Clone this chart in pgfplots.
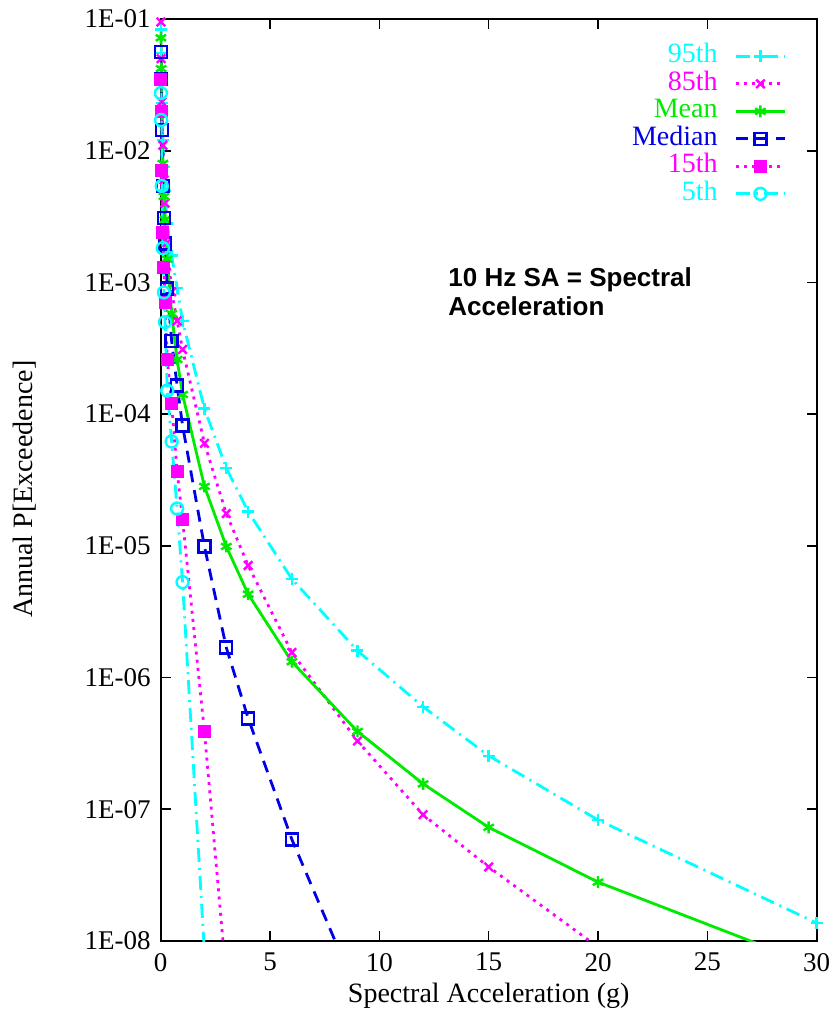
\documentclass[border=0pt]{standalone}
\usepackage{fontspec}
\setmainfont{Liberation Serif}
\newfontfamily\arial{Liberation Sans}
\usepackage{pgfplots}
\pgfplotsset{compat=1.18}
\definecolor{gcyan}{RGB}{0,255,255}
\definecolor{gmag}{RGB}{255,0,255}
\definecolor{ggreen}{RGB}{0,235,0}
\definecolor{gblue}{RGB}{0,0,230}
\begin{document}
\begin{tikzpicture}
\useasboundingbox (-80.35pt,-35.5pt) rectangle (334.15pt,470.5pt);
\begin{axis}[
  scale only axis, width=328pt, height=461pt,
  xmin=0, xmax=30, ymin=1e-8, ymax=1e-1,
  ymode=log,
  xtick={0,5,10,15,20,25,30},
  ytick={1e-1,1e-2,1e-3,1e-4,1e-5,1e-6,1e-7,1e-8},
  yticklabels={1E-01,1E-02,1E-03,1E-04,1E-05,1E-06,1E-07,1E-08},
  minor tick num=0,
  yminorticks=false,
  tick align=inside, tick pos=both,
  major tick length=5pt,
  every tick/.style={black, line width=0.8pt},
  axis line style={line width=0.9pt},
  /pgf/number format/assume math mode=true,
  tick label style={font=\fontsize{13.5}{15}\selectfont},
  xticklabel style={yshift=-2.5pt},
  yticklabel style={xshift=-1.5pt},
  label style={font=\fontsize{14}{16}\selectfont},
  xlabel={Spectral Acceleration (g)},
  ylabel={Annual P[Exceedence]},
  xlabel style={at={(rel axis cs:0.5,0)}, anchor=center, yshift=-27.5pt},
  ylabel style={at={(rel axis cs:0,0.49)}, anchor=center, yshift=67.9pt},
  legend plot pos=right,
  legend cell align=right,
  legend style={at={(rel axis cs:1,1)}, anchor=north east, xshift=-15pt, yshift=-11.6pt,
    draw=none, fill=none, inner sep=0pt, column sep=8.5pt, row sep=0pt,
    nodes={inner sep=0pt, text height=10pt, text depth=3.75pt},
    font=\fontsize{14}{14}\selectfont},
  legend image code/.code={\draw[mark repeat=2,mark phase=2] plot coordinates {(0cm,0cm) (0.43cm,0cm) (0.86cm,0cm)};},
  every axis plot/.append style={line width=1.4pt, mark size=3pt},
]
% 95th
\addplot[gcyan, dash pattern=on 7pt off 3pt on 1pt off 3pt, mark=+, mark options={solid, line width=1.2pt}] coordinates {
(0.01,8.3e-2) (0.02,5.5e-2) (0.05,2.3e-2) (0.1,1.2e-2) (0.15,7.5e-3) (0.2,5e-3) (0.3,2.8e-3) (0.5,1.6e-3) (0.75,9.1e-4) (1,5.1e-4) (2,1.1e-4) (3,3.9e-5) (4,1.82e-5) (6,5.6e-6) (9,1.6e-6) (12,6.0e-7) (15,2.55e-7) (20,8.3e-8) (30,1.37e-8)};
\addlegendentry{\textcolor{gcyan}{95th}}
% 85th
\addplot[gmag, dash pattern=on 1.5pt off 2.6pt, mark=x, mark options={solid, line width=1.2pt}] coordinates {
(0.01,9.5e-2) (0.02,5.0e-2) (0.05,2.35e-2) (0.1,1.1e-2) (0.15,6e-3) (0.2,4e-3) (0.3,2e-3) (0.5,8.5e-4) (0.75,5.1e-4) (1,3.1e-4) (2,6.0e-5) (3,1.76e-5) (4,7.1e-6) (6,1.55e-6) (9,3.3e-7) (12,9.1e-8) (15,3.65e-8) (20,9e-9)};
\addlegendentry{\textcolor{gmag}{85th}}
% Mean
\addplot[ggreen, solid, mark=asterisk, mark options={solid, line width=1.2pt}] coordinates {
(0.01,7.2e-2) (0.02,4.2e-2) (0.05,1.9e-2) (0.1,8e-3) (0.15,4.5e-3) (0.2,3e-3) (0.3,1.5e-3) (0.5,5.8e-4) (0.75,2.6e-4) (1,1.41e-4) (2,2.83e-5) (3,9.9e-6) (4,4.3e-6) (6,1.32e-6) (9,3.9e-7) (12,1.56e-7) (15,7.3e-8) (20,2.8e-8) (30,6.4e-9)};
\addlegendentry{\textcolor{ggreen}{Mean}}
% Median
\addplot[gblue, dash pattern=on 6pt off 4pt, mark=square, mark options={solid, line width=1.2pt}] coordinates {
(0.01,5.6e-2) (0.02,3.5e-2) (0.05,1.43e-2) (0.1,5.4e-3) (0.15,3.1e-3) (0.2,1.98e-3) (0.3,9e-4) (0.5,3.6e-4) (0.75,1.65e-4) (1,8.2e-5) (2,9.9e-6) (3,1.69e-6) (4,4.9e-7) (6,5.9e-8) (9,4.0e-9)};
\addlegendentry{\textcolor{gblue}{Median}}
% 15th
\addplot[gmag, dash pattern=on 1.5pt off 2.6pt, mark=square*, mark options={solid, scale=0.85}] coordinates {
(0.01,3.5e-2) (0.02,2.0e-2) (0.05,7.1e-3) (0.1,2.4e-3) (0.15,1.3e-3) (0.2,7e-4) (0.3,2.6e-4) (0.5,1.2e-4) (0.75,3.7e-5) (1,1.58e-5) (2,3.9e-7) (3,5.2e-9)};
\addlegendentry{\textcolor{gmag}{15th}}
% 5th
\addplot[gcyan, dash pattern=on 7pt off 3pt on 1pt off 3pt, mark=o, mark options={solid, line width=1.2pt}] coordinates {
(0.01,2.74e-2) (0.02,1.71e-2) (0.05,5.4e-3) (0.1,1.82e-3) (0.15,8.4e-4) (0.2,5.0e-4) (0.3,1.51e-4) (0.5,6.2e-5) (0.75,1.92e-5) (1,5.3e-6) (2,8.3e-9)};
\addlegendentry{\textcolor{gcyan}{5th}}
\node[anchor=north west, align=left, font=\arial\bfseries\fontsize{13}{14.5}\selectfont, inner sep=0pt] at (rel axis cs:0.438,0.731) {10 Hz SA = Spectral\\Acceleration};
\end{axis}
\end{tikzpicture}
\end{document}
